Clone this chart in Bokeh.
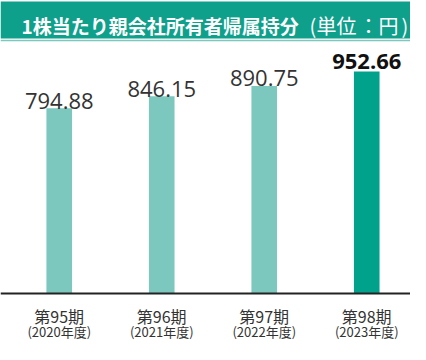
from bokeh.plotting import figure
from bokeh.models import (ColumnDataSource, FactorRange, Range1d, BoxAnnotation,
                          Label, Span)
from bokeh.transform import dodge
from bokeh.core.properties import value
from bokeh.embed import file_html
from bokeh.resources import INLINE

# ---- data ----
periods = ["第95期", "第96期", "第97期", "第98期"]
years = ["(2020年度)", "(2021年度)", "(2022年度)", "(2023年度)"]
values = [794.88, 846.15, 890.75, 952.66]
value_labels = ["794.88", "846.15", "890.75", "952.66"]
title_main = "1株当たり親会社所有者帰属持分"
title_unit_parts = ["(", "単位", "：", "円", ")"]

W, H = 410, 344
LIGHT = "#7dc8be"
DARK = "#00a28c"
BANNER = "#0fa08b"

bar_colors = [LIGHT, LIGHT, LIGHT, DARK]
label_styles = ["normal", "normal", "normal", "bold"]
label_colors = ["#333333", "#333333", "#333333", "#111111"]
label_offsets = [-7.5, -7.5, -7.5, -10]

src = ColumnDataSource(dict(period=periods, year=years, value=values,
                            label=value_labels, color=bar_colors,
                            style=label_styles, tcolor=label_colors,
                            yoff=label_offsets, zero=[0] * len(values)))

xr = FactorRange(factors=periods, range_padding=0)
p = figure(width=W, height=H, output_backend="svg", toolbar_location=None,
           x_range=xr, y_range=Range1d(-218.9, 1257.5), min_border=0,
           background_fill_color="white", border_fill_color="white")
p.outline_line_color = None
p.axis.visible = False
p.grid.visible = False

XS = dodge("period", 0.073, range=xr)

# banner
p.add_layout(BoxAnnotation(left=0, right=W, top=H - 1, bottom=H - 38,
                           left_units="screen", right_units="screen",
                           top_units="screen", bottom_units="screen",
                           fill_color=BANNER, fill_alpha=1, line_color=None,
                           level="underlay"))
p.add_layout(Span(location=H - 40, location_units="screen", dimension="width",
                  line_color=LIGHT, line_width=1.5))
p.add_layout(Label(x=21, y=H - 25, x_units="screen", y_units="screen",
                   text=title_main, text_font="Noto Sans CJK JP",
                   text_font_style="bold", text_font_size="19px",
                   text_color="white", text_baseline="middle"))
unit_x = [309, 316, 368, 378, 401]
unit_align = ["left", "left", "center", "left", "left"]
for t, ux, ua in zip(title_unit_parts, unit_x, unit_align):
    p.add_layout(Label(x=ux, y=H - 25, x_units="screen", y_units="screen",
                       text=t, text_font="Noto Sans CJK JP",
                       text_font_size="20px", text_color="white",
                       text_align=ua, text_baseline="middle"))

# bars
p.vbar(x=XS, top="value", bottom=0, width=0.25, source=src,
       fill_color="color", line_color=None)

# baseline
p.add_layout(Span(location=0, dimension="width", line_color="#222222",
                  line_width=2))

# value labels
p.text(x=XS, y="value", text="label", source=src, y_offset="yoff",
       text_align="center", text_baseline="alphabetic",
       text_font=value("Open Sans"), text_font_size="22px",
       text_font_style="style", text_color="tcolor")

# category labels
p.text(x=XS, y="zero", text="period", source=src, y_offset=23,
       text_align="center", text_baseline="alphabetic",
       text_font=value("Noto Sans CJK JP"), text_font_size="16px",
       text_color="#333333")
p.text(x=XS, y="zero", text="year", source=src, y_offset=38,
       text_align="center", text_baseline="alphabetic",
       text_font=value("Noto Sans CJK JP"), text_font_size="13px",
       text_color="#333333")

open("out.html", "w").write(file_html(p, INLINE))
